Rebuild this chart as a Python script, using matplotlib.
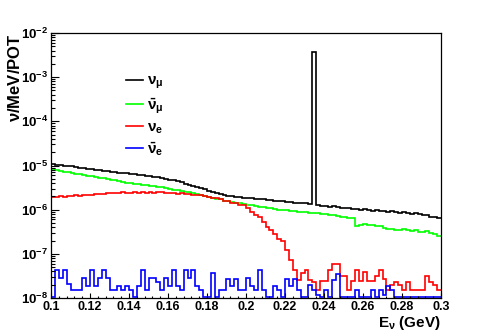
import numpy as np
import matplotlib.pyplot as plt
from matplotlib.ticker import FixedLocator, MultipleLocator, NullFormatter

plt.rcParams['font.family'] = ['Liberation Sans', 'DejaVu Sans']
plt.rcParams['font.weight'] = 'bold'
plt.rcParams['mathtext.fontset'] = 'custom'
plt.rcParams['mathtext.rm'] = 'Liberation Sans:bold'
plt.rcParams['mathtext.bf'] = 'Liberation Sans:bold'
plt.rcParams['mathtext.it'] = 'Liberation Sans:bold'

# energy binning (GeV), 2 MeV per bin
e_lo, e_hi, n_bins = 0.1, 0.3, 100

# nu_mu flux, units of 1e-6 nu/MeV/POT
numu = [10.7, 10.5, 10.4, 10.0, 9.8, 9.5, 9.3, 9.0, 8.8, 8.5,
        8.3, 8.1, 7.9, 7.7, 7.5, 7.3, 7.1, 6.9, 6.8, 6.6,
        6.5, 6.3, 6.2, 6.0, 5.9, 5.7, 5.5, 5.4, 5.2, 5.0,
        4.8, 4.6, 4.4, 4.2, 3.9, 3.7, 3.5, 3.3, 3.1, 2.9,
        2.7, 2.55, 2.4, 2.25, 2.15, 2.05, 2.0, 1.95, 1.9, 1.85,
        1.8, 1.8, 1.75, 1.7, 1.7, 1.65, 1.65, 1.6, 1.6, 1.55,
        1.5, 1.5, 1.45, 1.45, 1.4, 1.4, 1.35, 3700.0, 1.25, 1.2,
        1.2, 1.15, 1.2, 1.15, 1.1, 1.1, 1.1, 1.05, 1.05, 1.0,
        1.05, 1.0, 0.95, 1.0, 0.95, 0.95, 0.9, 0.95, 0.9, 0.85,
        0.9, 0.85, 0.8, 0.85, 0.8, 0.75, 0.75, 0.7, 0.7, 0.65]

# anti nu_mu, units of 1e-6
numubar = [8.2, 7.8, 7.5, 7.2, 7.0, 6.7, 6.5, 6.3, 6.1, 5.9,
           5.7, 5.5, 5.3, 5.1, 4.9, 4.7, 4.6, 4.4, 4.3, 4.1,
           4.0, 3.9, 3.8, 3.7, 3.6, 3.5, 3.4, 3.3, 3.2, 3.1,
           2.95, 2.85, 2.75, 2.65, 2.55, 2.45, 2.35, 2.25, 2.15, 2.05,
           1.95, 1.85, 1.75, 1.7, 1.6, 1.55, 1.5, 1.45, 1.4, 1.35,
           1.3, 1.25, 1.2, 1.15, 1.15, 1.1, 1.1, 1.05, 1.0, 1.0,
           0.98, 0.95, 0.95, 0.9, 0.9, 0.88, 0.85, 0.85, 0.82, 0.8,
           0.78, 0.76, 0.75, 0.72, 0.7, 0.68, 0.66, 0.64, 0.42, 0.45,
           0.47, 0.45, 0.44, 0.42, 0.42, 0.38, 0.36, 0.37, 0.35, 0.34,
           0.36, 0.35, 0.33, 0.34, 0.32, 0.31, 0.33, 0.3, 0.28, 0.26]

# nu_e, units of 1e-6
nue = [1.95, 1.9, 2.0, 1.95, 2.05, 2.0, 2.1, 2.05, 2.15, 2.2,
       2.2, 2.25, 2.3, 2.25, 2.35, 2.4, 2.35, 2.4, 2.45, 2.4,
       2.35, 2.45, 2.4, 2.5, 2.4, 2.45, 2.4, 2.5, 2.45, 2.4,
       2.4, 2.35, 2.3, 2.35, 2.25, 2.25, 2.2, 2.15, 2.1, 2.05,
       1.95, 1.85, 1.8, 1.7, 1.6, 1.55, 1.45, 1.4, 1.3, 1.25,
       1.07, 0.9, 0.75, 0.69, 0.53, 0.41, 0.35, 0.28, 0.22, 0.2,
       0.12, 0.071, 0.043, 0.026, 0.036, 0.043, 0.025, 0.023, 0.015, 0.024,
       0.024, 0.042, 0.059, 0.059, 0.032, 0.032, 0.015, 0.024, 0.043, 0.024,
       0.039, 0.024, 0.024, 0.032, 0.043, 0.027, 0.015, 0.02, 0.023, 0.02,
       0.015, 0.023, 0.015, 0.015, 0.015, 0.015, 0.032, 0.023, 0.02, 0.015]

# anti nu_e, units of 1e-8
nuebar = [1.05, 4.2, 2.9, 4.2, 2.1, 1.5, 1.5, 1.5, 2.9, 1.9,
          4.2, 1.9, 2.9, 4.2, 2.9, 1.5, 1.5, 1.9, 1.5, 1.9,
          1.5, 1.05, 1.9, 4.2, 1.5, 2.9, 2.9, 2.3, 1.5, 2.9,
          1.9, 4.2, 1.9, 1.5, 4.2, 2.9, 4.2, 1.9, 1.5, 1.05,
          1.05, 3.6, 1.05, 1.5, 1.5, 2.7, 1.9, 2.7, 1.5, 1.5,
          2.9, 1.9, 1.5, 4.2, 1.5, 1.05, 1.05, 1.9, 1.5, 1.05,
          2.7, 1.9, 2.7, 1.5, 1.05, 1.05, 2.0, 1.5, 1.2, 1.05,
          1.5, 1.05, 2.5, 3.5, 1.05, 1.05, 1.05, 1.05, 1.5, 1.05,
          1.05, 1.05, 1.5, 1.05, 1.5, 1.2, 1.9, 1.5, 1.05, 1.05,
          1.05, 1.05, 1.05, 1.05, 1.05, 1.05, 1.05, 1.05, 1.05, 1.05]

series = [
    (np.array(numu) * 1e-6, "black", r"$\nu_{\mu}$"),
    (np.array(numubar) * 1e-6, "#00ff00", r"$\bar{\nu}_{\mu}$"),
    (np.array(nue) * 1e-6, "#ff0000", r"$\nu_{e}$"),
    (np.array(nuebar) * 1e-8, "#0000ff", r"$\bar{\nu}_{e}$"),
]

edges = np.linspace(e_lo, e_hi, n_bins + 1)

fig = plt.figure(figsize=(4.91, 3.32), dpi=100)
ax = fig.add_axes([51 / 491, 1 - 298 / 332, 390 / 491, 265 / 332])

handles = []
for vals, col, lab in series:
    h = ax.stairs(vals, edges, color=col, lw=1.2, label=lab, baseline=None)
    handles.append(h)

ax.set_yscale("log")
ax.set_xlim(e_lo, e_hi)
ax.set_ylim(1e-8, 1e-2)

# ticks ROOT style: inside, left & bottom only
ax.xaxis.set_major_locator(MultipleLocator(0.02))
ax.xaxis.set_minor_locator(MultipleLocator(0.004))
ax.xaxis.set_major_formatter(lambda v, p: f"{v:g}")
decades = [1e-8, 1e-7, 1e-6, 1e-5, 1e-4, 1e-3, 1e-2]
ax.yaxis.set_major_locator(FixedLocator(decades))
ax.yaxis.set_major_formatter(lambda v, p: r"$10^{%d}$" % round(np.log10(v)))
ax.yaxis.set_minor_formatter(NullFormatter())
ax.tick_params(axis="x", which="major", direction="in", length=3.5, width=0.8,
               labelsize=9, pad=2)
ax.tick_params(axis="x", which="minor", direction="in", length=1.8, width=0.8)
ax.tick_params(axis="y", which="major", direction="in", length=6, width=0.8,
               labelsize=9.5, pad=2)
ax.tick_params(axis="y", which="minor", direction="in", length=3, width=0.8)
for sp in ax.spines.values():
    sp.set_linewidth(0.9)

ax.set_ylabel(r"$\nu$/MeV/POT", fontsize=12, fontweight="bold", loc="top")
ax.yaxis.set_label_coords(-0.073, 1.0)
ax.set_xlabel(r"E$_{\nu}$ (GeV)", fontsize=11, fontweight="bold", loc="right")
ax.xaxis.set_label_coords(1.0, -0.061)

ax.legend(handles=handles, loc="upper left", bbox_to_anchor=(0.192, 0.845),
          frameon=False, fontsize=11, handlelength=1.1, handletextpad=0.3,
          labelspacing=0.3, borderpad=0, borderaxespad=0)

fig.savefig("out.png", dpi=100)
